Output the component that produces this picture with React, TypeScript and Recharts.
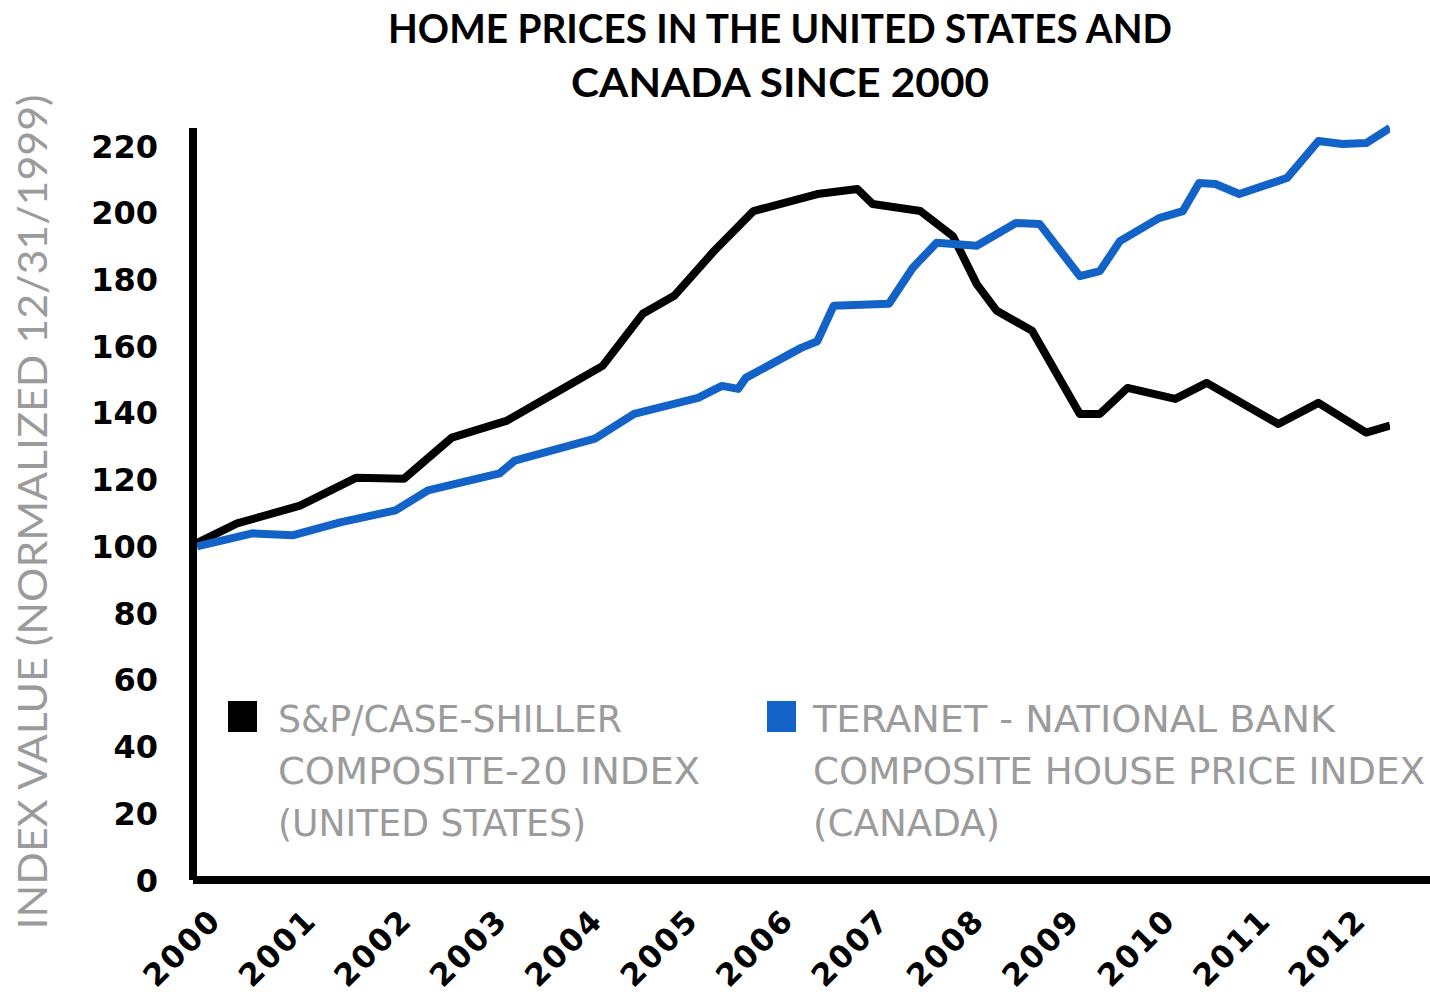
import { Legend, Line, LineChart, XAxis, YAxis } from 'recharts';

// decimal year of each visible vertex, and index value (12/31/1999 = 100)
const usYears = [
  2000.0, 2000.42, 2001.08, 2001.67, 2002.17, 2002.67, 2003.25, 2003.67, 2004.25, 2004.67,
  2005.0, 2005.42, 2005.83, 2006.5, 2006.92, 2007.08, 2007.58, 2007.92, 2008.17, 2008.38,
  2008.75, 2009.25, 2009.46, 2009.75, 2010.25, 2010.58, 2011.33, 2011.75, 2012.25, 2012.5,
];
const usValues = [
  101, 106.9, 112.2, 120.6, 120.3, 132.6, 137.7, 144.6, 154.1, 169.7,
  175.1, 188.6, 200.5, 205.6, 207.1, 202.6, 200.5, 193.0, 178.6, 170.6,
  164.6, 139.7, 139.7, 147.5, 144.2, 149.0, 136.7, 143.0, 134.1, 136.2,
];

const caYears = [
  2000.0, 2000.58, 2001.0, 2001.5, 2002.08, 2002.42, 2003.17, 2003.33, 2004.17, 2004.58,
  2005.25, 2005.5, 2005.67, 2005.75, 2006.33, 2006.5, 2006.67, 2007.25, 2007.5, 2007.75,
  2008.17, 2008.58, 2008.83, 2009.25, 2009.46, 2009.67, 2010.08, 2010.33, 2010.5, 2010.67,
  2010.92, 2011.42, 2011.75, 2012.0, 2012.25, 2012.5,
];
const caValues = [
  100, 103.9, 103.3, 107.2, 110.8, 116.8, 121.9, 125.7, 132.3, 139.7,
  144.5, 148.1, 147.2, 150.5, 159.5, 161.5, 172.1, 172.7, 183.5, 191.0,
  190.1, 196.9, 196.6, 181.0, 182.5, 191.5, 198.4, 200.5, 208.9, 208.6,
  205.6, 210.4, 221.5, 220.6, 220.9, 225.4,
];

const yearTicks = [2000, 2001, 2002, 2003, 2004, 2005, 2006, 2007, 2008, 2009, 2010, 2011, 2012];
const valueTicks = [0, 20, 40, 60, 80, 100, 120, 140, 160, 180, 200, 220];

const titleLines = ['HOME PRICES IN THE UNITED STATES AND', 'CANADA SINCE 2000'];
const yAxisTitle = 'INDEX VALUE (NORMALIZED 12/31/1999)';
const usLabel = ['S&P/CASE-SHILLER', 'COMPOSITE-20 INDEX', '(UNITED STATES)'];
const caLabel = ['TERANET - NATIONAL BANK', 'COMPOSITE HOUSE PRICE INDEX', '(CANADA)'];

const US_COLOR = '#000000';
const CA_COLOR = '#1262c8';
const GRAY = '#9b9b9b';
const BOLD_FONT = '"DejaVu Sans", sans-serif';
const NARROW_FONT = '"Liberation Sans Narrow", "DejaVu Sans Condensed", sans-serif';

// legend layout: square x and text x per item, and the drawn width of each line
const legendLayout = [
  { square: 0, text: 50, widths: [344, 422, 308] },
  { square: 539, text: 585, widths: [522, 612, 187] },
];

const usData = usYears.map((t, i) => ({ t, v: usValues[i] }));
const caData = caYears.map((t, i) => ({ t, v: caValues[i] }));

function YearTick({ x, y, payload }: any) {
  return (
    <g transform={`translate(${x + 26},${y + 34})`}>
      <text
        textAnchor="end"
        transform="rotate(-45)"
        fontFamily={BOLD_FONT}
        fontWeight={700}
        fontSize={31}
        letterSpacing={2}
        fill="#000"
      >
        {payload.value}
      </text>
    </g>
  );
}

function ValueTick({ x, y, payload }: any) {
  return (
    <text
      x={x}
      y={y}
      dy="0.36em"
      textAnchor="end"
      fontFamily={BOLD_FONT}
      fontWeight={700}
      fontSize={32}
      fill="#000"
    >
      {payload.value}
    </text>
  );
}

function LegendBlock({ payload }: any) {
  const labels = [usLabel, caLabel];
  return (
    <svg width={1230} height={160} style={{ display: 'block' }}>
      {(payload || []).map((entry: any, i: number) => {
        const lay = legendLayout[i];
        return (
          <g key={entry.value}>
            <rect x={lay.square} y={4} width={29} height={31} fill={entry.color} />
            {labels[i].map((line, j) => (
              <text
                key={line}
                x={lay.text}
                y={35 + j * 52}
                fontFamily={NARROW_FONT}
                fontSize={38}
                textLength={lay.widths[j]}
                lengthAdjust="spacingAndGlyphs"
                fill={GRAY}
              >
                {line}
              </text>
            ))}
          </g>
        );
      })}
    </svg>
  );
}

export default function App() {
  return (
    <div style={{ width: 1430, height: 1003, background: '#fff' }}>
      <style>{'body{margin:0;}'}</style>
      <LineChart
        width={1430}
        height={1003}
        margin={{ top: 128, right: 0, bottom: 0, left: 0 }}
      >
        <text
          x={780}
          y={43}
          textAnchor="middle"
          fontFamily='"Lato", sans-serif'
          fontWeight={700}
          fontSize={40}
          textLength={784}
          lengthAdjust="spacingAndGlyphs"
          fill="#000"
        >
          {titleLines[0]}
        </text>
        <text
          x={780}
          y={97}
          textAnchor="middle"
          fontFamily='"Lato", sans-serif'
          fontWeight={700}
          fontSize={40}
          textLength={418}
          lengthAdjust="spacingAndGlyphs"
          fill="#000"
        >
          {titleLines[1]}
        </text>
        <text
          transform="translate(47,512) rotate(-90)"
          textAnchor="middle"
          fontFamily='"Lato", sans-serif'
          fontSize={40}
          textLength={835}
          lengthAdjust="spacingAndGlyphs"
          fill={GRAY}
        >
          {yAxisTitle}
        </text>
        <XAxis
          dataKey="t"
          type="number"
          domain={[2000, 2012.5]}
          ticks={yearTicks}
          allowDataOverflow
          padding={{ left: 4, right: 40 }}
          height={123}
          axisLine={{ stroke: '#000', strokeWidth: 8 }}
          tickLine={false}
          tick={<YearTick />}
          interval={0}
        />
        <YAxis
          type="number"
          domain={[0, 225]}
          ticks={valueTicks}
          width={193}
          axisLine={{ stroke: '#000', strokeWidth: 8 }}
          tickLine={false}
          tickMargin={29}
          tick={<ValueTick />}
          interval={0}
        />
        <Legend
          layout="horizontal"
          verticalAlign="middle"
          align="center"
          content={<LegendBlock />}
          wrapperStyle={{ left: 228, top: 697, width: 1230, height: 160 }}
        />
        <Line
          data={usData}
          dataKey="v"
          name={usLabel.join(' ')}
          stroke={US_COLOR}
          strokeWidth={8}
          strokeLinejoin="round"
          dot={false}
          activeDot={false}
          isAnimationActive={false}
        />
        <Line
          data={caData}
          dataKey="v"
          name={caLabel.join(' ')}
          stroke={CA_COLOR}
          strokeWidth={8}
          strokeLinejoin="round"
          dot={false}
          activeDot={false}
          isAnimationActive={false}
        />
      </LineChart>
    </div>
  );
}
